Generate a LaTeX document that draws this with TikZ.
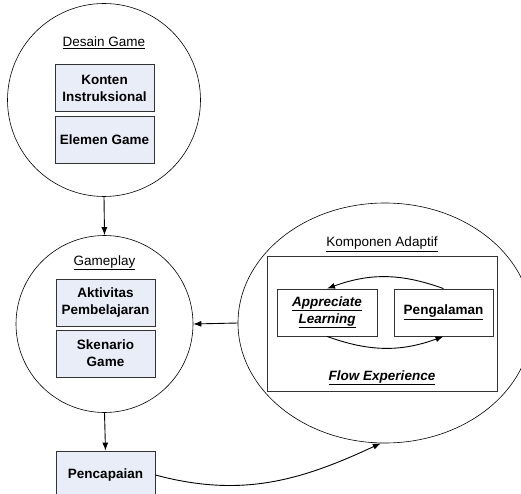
\documentclass[tikz,border=0pt]{standalone}
\usepackage{fontspec}
\setmainfont{Liberation Sans}
\usepackage{xcolor}
\usepackage{tikz}
\usetikzlibrary{arrows.meta,shapes.geometric}
\definecolor{boxfill}{RGB}{232,237,248}

\begin{document}
\begin{tikzpicture}[>={Latex[length=8pt,width=6pt]}, x=1pt, y=1pt,
  font=\fontsize{13.5}{17}\selectfont,
  blok/.style={draw=black!80, fill=boxfill, line width=0.8pt, minimum width=99pt, minimum height=47pt, align=center, inner sep=1pt, font=\fontsize{13.5}{17}\selectfont\bfseries},
  kotak/.style={draw=black!80, line width=0.8pt, minimum width=100pt, minimum height=47pt, align=center, inner sep=1pt, font=\fontsize{13.5}{17}\selectfont\bfseries},
  judul/.style={anchor=base, inner sep=0pt},
  panah/.style={->, line width=0.9pt}]
  \useasboundingbox (0,0) rectangle (521,-494);
  % desain game
  \node[draw, circle, line width=0.6pt, minimum size=193pt] (desain) at (104,-100) {};
  \node[judul] (tdesain) at (104,-47) {\underline{Desain Game}};
  \node[blok] (konten) at (104.5,-88) {Konten\\Instruksional};
  \node[blok] (elemen) at (104.5,-139.5) {Elemen Game};
  % gameplay
  \node[draw, circle, line width=0.6pt, minimum size=177pt] (gameplay) at (104.5,-324) {};
  \node[judul] (tgameplay) at (104.5,-265) {\underline{Gameplay}};
  \node[blok] (aktivitas) at (105.5,-302.5) {Aktivitas\\Pembelajaran};
  \node[blok] (skenario) at (105.5,-353.5) {Skenario\\Game};
  \node[blok, minimum height=48pt] (pencapaian) at (105.5,-475) {Pencapaian};
  % komponen adaptif
  \node[draw, ellipse, line width=0.6pt, minimum width=294pt, minimum height=240pt] (adaptif) at (385,-323) {};
  \node[judul] (tadaptif) at (382,-246.5) {\underline{Komponen Adaptif}};
  \node[draw=black!80, line width=0.8pt, minimum width=230pt, minimum height=135pt] (flow) at (382,-323.5) {};
  \node[kotak] (appreciate) at (327,-312.5) {\underline{\itshape Appreciate}\\\underline{\itshape Learning}};
  \node[kotak, minimum width=99pt] (pengalaman) at (443.5,-312.5) {\underline{Pengalaman}};
  \node[judul, font=\fontsize{13.5}{17}\selectfont\bfseries\itshape] (tflow) at (382,-380) {\underline{Flow Experience}};
  % panah
  \draw[panah] (desain.south) -- (gameplay.north);
  \draw[panah] (gameplay.south) -- (pencapaian.north);
  \draw[panah] (adaptif.west) -- (gameplay.east);
  \draw[panah] (pengalaman.north) to[bend right=20] (appreciate.north);
  \draw[panah] (appreciate.south) to[bend right=20] (pengalaman.south);
  \draw[panah] (pencapaian.east) to[out=-15, in=205] (adaptif.268);
\end{tikzpicture}
\end{document}
